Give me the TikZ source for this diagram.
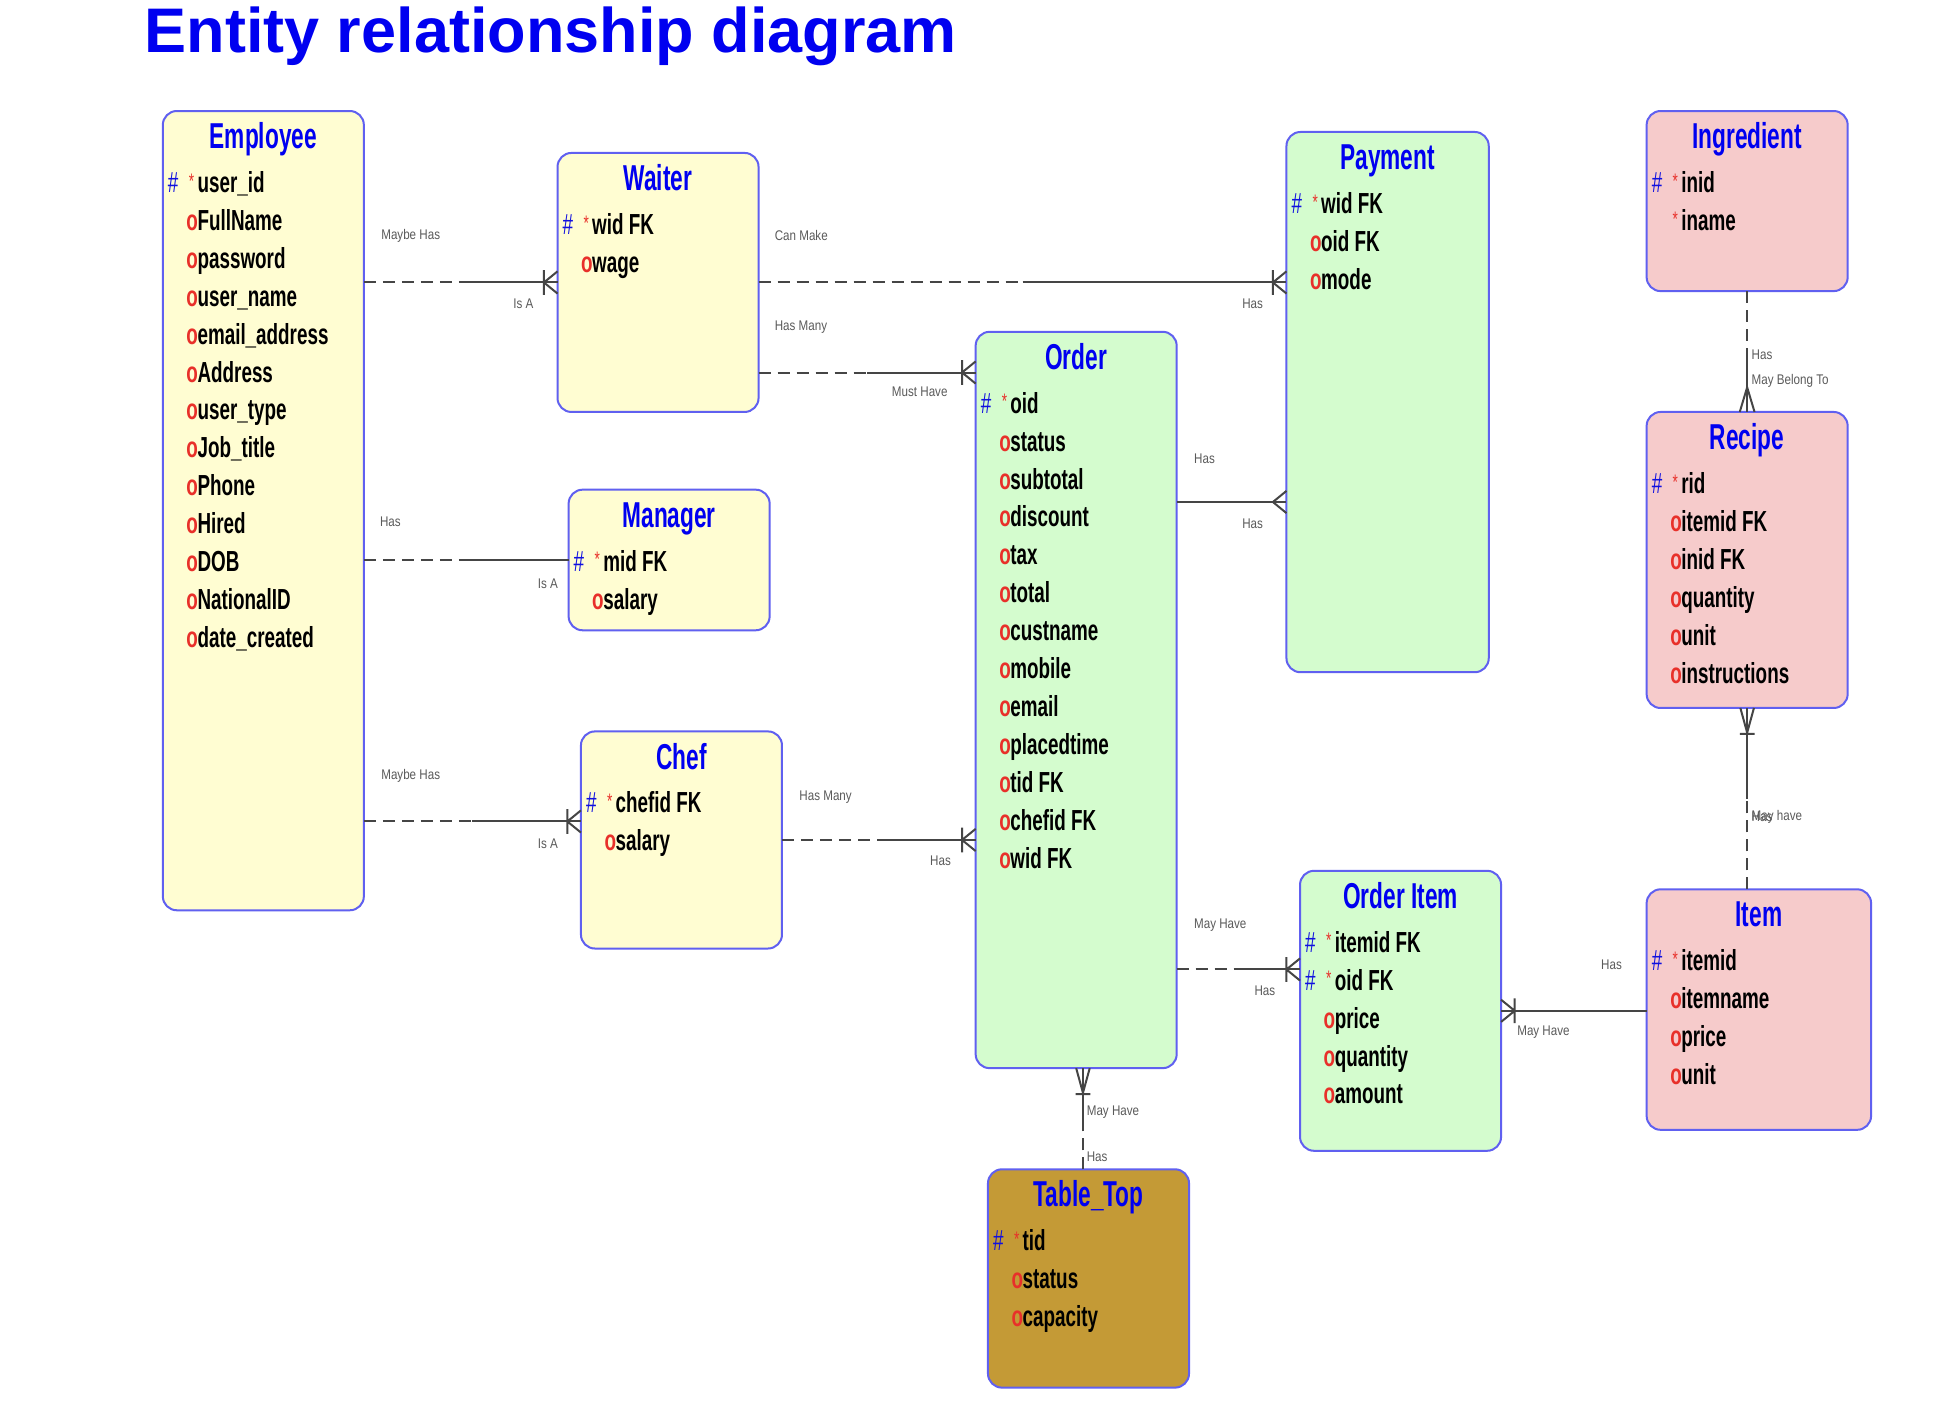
\documentclass[tikz,border=0pt]{standalone}
\usepackage{fontspec}
\setmainfont{Liberation Sans}
\newfontfamily\attrfont[FakeStretch=0.65]{Liberation Sans}
\newfontfamily\ttlfont[FakeStretch=0.63]{Liberation Sans}
\newfontfamily\lblfont[FakeStretch=0.83]{Liberation Sans}
\usetikzlibrary{fit,calc}
\definecolor{yfill}{HTML}{FFFDD2}
\definecolor{gfill}{HTML}{D4FCCE}
\definecolor{pfill}{HTML}{F6CBCB}
\definecolor{tfill}{HTML}{C49A36}
\definecolor{bordercol}{HTML}{6060F0}
\definecolor{titleblue}{HTML}{0000F0}
\definecolor{hashblue}{HTML}{1010E0}
\definecolor{markred}{HTML}{E8302A}
\definecolor{linecol}{HTML}{454545}
\definecolor{lblgrey}{HTML}{5A5A5A}
\tikzset{
 entity/.style={draw=bordercol, line width=2pt, rounded corners=14pt, inner sep=0pt, outer sep=0pt},
 etitle/.style={font=\ttlfont\bfseries\fontsize{36}{36}\selectfont, text=titleblue, inner sep=0pt, anchor=base},
 attr/.style={font=\attrfont\bfseries\fontsize{29}{29}\selectfont, text=black, inner sep=0pt, anchor=base west},
 omark/.style={font=\attrfont\bfseries\fontsize{29}{29}\selectfont, text=markred, inner sep=0pt, anchor=base west},
 hmark/.style={font=\attrfont\fontsize{29}{29}\selectfont, text=hashblue, inner sep=0pt, anchor=base west},
 smark/.style={font=\attrfont\fontsize{21}{21}\selectfont, text=markred, inner sep=0pt, anchor=base west},
 lbl/.style={font=\lblfont\fontsize{14}{14}\selectfont, text=lblgrey, inner sep=0pt, anchor=west},
 conn/.style={draw=linecol, line width=2pt},
 optconn/.style={conn, dash pattern=on 12pt off 7pt},
 crowbarW/.pic={\draw[conn] (0,-9) -- (-11,0) -- (0,9) (-11,-10) -- (-11,10);},
 crowW/.pic={\draw[conn] (0,-9) -- (-11,0) -- (0,9);},
 crowbarE/.pic={\draw[conn] (0,-9) -- (11,0) -- (0,9) (11,-10) -- (11,10);},
 crowbarS/.pic={\draw[conn] (-5.5,0) -- (0,20) -- (5.5,0) (-6,21) -- (6,21);},
 crowN/.pic={\draw[conn] (-6,0) -- (0,-20) -- (6,0);},
}
\newcommand\entity[7]{%
 \node[entity, fill=#6, fit={(#2,#3) (#4,#5)}] (#1) {};
 \node[etitle] (#1-title) at ($(#1.north)+(0,30.5)$) {#7};}
\newcommand\pkrow[3]{%
 \node[hmark] (#1-h#2) at ($(#1.north west)+(4,{66+30.75*#2})$) {\#};
 \node[smark] (#1-s#2) at ($(#1.north west)+(21,{62.5+30.75*#2})$) {*};
 \node[attr] (#1-a#2) at ($(#1.north west)+(28,{66+30.75*#2})$) {#3};}
\newcommand\srow[3]{%
 \node[smark] (#1-s#2) at ($(#1.north west)+(21,{62.5+30.75*#2})$) {*};
 \node[attr] (#1-a#2) at ($(#1.north west)+(28,{66+30.75*#2})$) {#3};}
\newcommand\orow[3]{%
 \node[omark] (#1-o#2) at ($(#1.north west)+(19,{66+30.75*#2})$) {o};
 \node[attr] (#1-a#2) at ($(#1.north west)+(28,{66+30.75*#2})$) {#3};}
\newcommand\rel[2]{%
 \draw[optconn] (#1) -- ($(#1)!0.5!(#2)$);
 \draw[conn] ($(#1)!0.5!(#2)$) -- (#2);}
\begin{document}
\begin{tikzpicture}[x=1.2334pt,y=-1.2334pt]
\fill[white] (0,0) rectangle (1568,1153);
\useasboundingbox (0,0) rectangle (1568,1153);

\node[font=\bfseries\fontsize{63}{63}\selectfont, text=titleblue, inner sep=0pt, anchor=base west] (maintitle) at (117,42.7) {Entity relationship diagram};

% entities
\entity{emp}{132}{90}{295}{738}{yfill}{Employee}
\pkrow{emp}{0}{user\_id}
\orow{emp}{1}{FullName}
\orow{emp}{2}{password}
\orow{emp}{3}{user\_name}
\orow{emp}{4}{email\_address}
\orow{emp}{5}{Address}
\orow{emp}{6}{user\_type}
\orow{emp}{7}{Job\_title}
\orow{emp}{8}{Phone}
\orow{emp}{9}{Hired}
\orow{emp}{10}{DOB}
\orow{emp}{11}{NationalID}
\orow{emp}{12}{date\_created}

\entity{waiter}{452}{124}{615}{334}{yfill}{Waiter}
\pkrow{waiter}{0}{wid FK}
\orow{waiter}{1}{wage}

\entity{manager}{461}{397}{624}{511}{yfill}{Manager}
\pkrow{manager}{0}{mid FK}
\orow{manager}{1}{salary}

\entity{chef}{471}{593}{634}{769}{yfill}{Chef}
\pkrow{chef}{0}{chefid FK}
\orow{chef}{1}{salary}

\entity{order}{791}{269}{954}{866}{gfill}{Order}
\pkrow{order}{0}{oid}
\orow{order}{1}{status}
\orow{order}{2}{subtotal}
\orow{order}{3}{discount}
\orow{order}{4}{tax}
\orow{order}{5}{total}
\orow{order}{6}{custname}
\orow{order}{7}{mobile}
\orow{order}{8}{email}
\orow{order}{9}{placedtime}
\orow{order}{10}{tid FK}
\orow{order}{11}{chefid FK}
\orow{order}{12}{wid FK}

\entity{payment}{1043}{107}{1207}{545}{gfill}{Payment}
\pkrow{payment}{0}{wid FK}
\orow{payment}{1}{oid FK}
\orow{payment}{2}{mode}

\entity{ingr}{1335}{90}{1498}{236}{pfill}{Ingredient}
\pkrow{ingr}{0}{inid}
\srow{ingr}{1}{iname}

\entity{recipe}{1335}{334}{1498}{574}{pfill}{Recipe}
\pkrow{recipe}{0}{rid}
\orow{recipe}{1}{itemid FK}
\orow{recipe}{2}{inid FK}
\orow{recipe}{3}{quantity}
\orow{recipe}{4}{unit}
\orow{recipe}{5}{instructions}

\entity{oitem}{1054}{706}{1217}{933}{gfill}{Order Item}
\pkrow{oitem}{0}{itemid FK}
\pkrow{oitem}{1}{oid FK}
\orow{oitem}{2}{price}
\orow{oitem}{3}{quantity}
\orow{oitem}{4}{amount}

\entity{item}{1335}{721}{1517}{916}{pfill}{Item}
\pkrow{item}{0}{itemid}
\orow{item}{1}{itemname}
\orow{item}{2}{price}
\orow{item}{3}{unit}

\entity{table}{801}{948}{964}{1125}{tfill}{Table\_Top}
\pkrow{table}{0}{tid}
\orow{table}{1}{status}
\orow{table}{2}{capacity}

% connector levels
\coordinate (yWO) at (0,302);
\coordinate (yEC) at (0,666);
\coordinate (yOP) at (0,407);
\coordinate (yOI) at (0,786);
\coordinate (xOT) at (878,0);

% connectors
\rel{emp.east |- waiter.west}{waiter.west}
\pic at (waiter.west) {crowbarW};
\rel{waiter.east}{payment.west |- waiter.east}
\pic at (payment.west |- waiter.east) {crowbarW};
\rel{waiter.east |- yWO}{order.west |- yWO}
\pic at (order.west |- yWO) {crowbarW};
\rel{emp.east |- manager.west}{manager.west}
\rel{emp.east |- yEC}{chef.west |- yEC}
\pic at (chef.west |- yEC) {crowbarW};
\rel{chef.east}{order.west |- chef.east}
\pic at (order.west |- chef.east) {crowbarW};
\draw[conn] (order.east |- yOP) -- (payment.west |- yOP);
\pic at (payment.west |- yOP) {crowW};
\rel{order.east |- yOI}{oitem.west |- yOI}
\pic at (oitem.west |- yOI) {crowbarW};
\draw[conn] (oitem.east) -- (item.west |- oitem.east);
\pic at (oitem.east) {crowbarE};
\rel{table.north -| xOT}{order.south -| xOT}
\pic at (order.south -| xOT) {crowbarS};
\rel{ingr.south}{recipe.north}
\pic at (recipe.north) {crowN};
\rel{item.north -| recipe.south}{recipe.south}
\pic at (recipe.south) {crowbarS};

% labels
\node[lbl] (l1a) at (309,191) {Maybe Has};
\node[lbl] (l1b) at (416,246) {Is A};
\node[lbl] (l2a) at (628,191) {Can Make};
\node[lbl] (l2b) at (1007,246) {Has};
\node[lbl] (l3a) at (628,265) {Has Many};
\node[lbl] (l3b) at (723,318) {Must Have};
\node[lbl] (l4a) at (308,423) {Has};
\node[lbl] (l4b) at (436,473) {Is A};
\node[lbl] (l5a) at (309,629) {Maybe Has};
\node[lbl] (l5b) at (436,684) {Is A};
\node[lbl] (l6a) at (648,646) {Has Many};
\node[lbl] (l6b) at (754,698) {Has};
\node[lbl] (l7a) at (968,372) {Has};
\node[lbl] (l7b) at (1007,425) {Has};
\node[lbl] (l8a) at (968,750) {May Have};
\node[lbl] (l8b) at (1017,803) {Has};
\node[lbl] (l9a) at (1298,782) {Has};
\node[lbl] (l9b) at (1230,837) {May Have};
\node[lbl] (l10a) at (881,902) {May Have};
\node[lbl] (l10b) at (881,938) {Has};
\node[lbl] (l11a) at (1420,288) {Has};
\node[lbl] (l11b) at (1420,309) {May Belong To};
\node[lbl] (l12a) at (1420,662) {May have};
\node[lbl] (l12b) at (1420,662) {Has};
\end{tikzpicture}
\end{document}
